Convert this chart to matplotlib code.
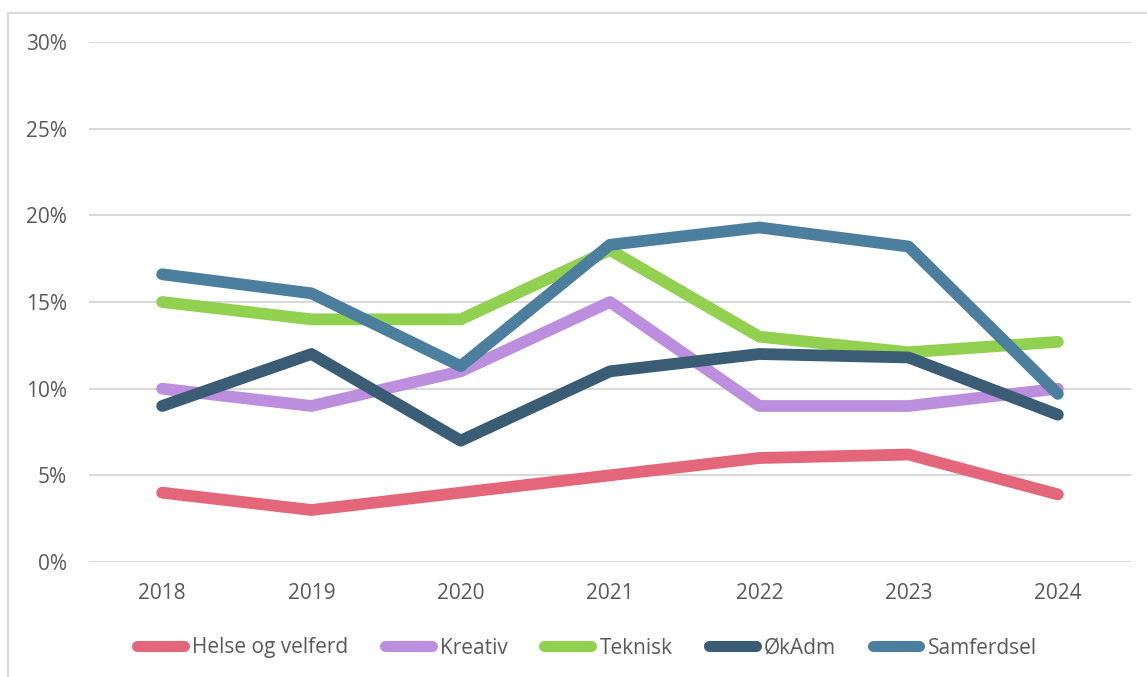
import matplotlib.pyplot as plt
from matplotlib.patches import Rectangle
from matplotlib.ticker import PercentFormatter

# data (percent)
years = ["2018", "2019", "2020", "2021", "2022", "2023", "2024"]
helse = [4.0, 3.0, 4.0, 5.0, 6.0, 6.2, 3.9]
kreativ = [10.0, 9.0, 11.0, 15.0, 9.0, 9.0, 10.0]
teknisk = [15.0, 14.0, 14.0, 18.0, 13.0, 12.1, 12.7]
okadm = [9.0, 12.0, 7.0, 11.0, 12.0, 11.8, 8.5]
samferdsel = [16.6, 15.5, 11.3, 18.3, 19.3, 18.2, 9.7]

series = [
    ("Helse og velferd", helse, "#E3667A"),
    ("Kreativ", kreativ, "#BB8FDD"),
    ("Teknisk", teknisk, "#92D050"),
    ("ØkAdm", okadm, "#3A5D75"),
    ("Samferdsel", samferdsel, "#4C7E9E"),
]

plt.rcParams['font.family'] = ['Open Sans', 'DejaVu Sans']
txt = "#595959"

fig = plt.figure(figsize=(11.47, 6.77), dpi=100)
W, H = 1147, 677
ax = fig.add_axes([89 / W, 1 - 562 / H, (1131 - 89) / W, (562 - 42) / H])

x = list(range(len(years)))
for name, vals, col in series:
    ax.plot(x, vals, color=col, lw=8.5, solid_capstyle='round',
            solid_joinstyle='round', label=name, zorder=3)

ax.set_xlim(-0.49, 6.49)
ax.set_ylim(0, 30)
ax.set_yticks(range(0, 31, 5))
ax.yaxis.set_major_formatter(PercentFormatter(decimals=0))
ax.set_xticks(x)
ax.set_xticklabels(years)
ax.grid(axis='y', color='#D9D9D9', lw=1.5)
ax.set_axisbelow(True)
for s in ax.spines.values():
    s.set_visible(False)
ax.tick_params(length=0, labelsize=15, colors=txt, pad=15)
ax.tick_params(axis='y', pad=16)

# outer chart border
fig.patches.append(Rectangle((8 / W, -0.1), 1.2, 1 - 13 / H + 0.1,
                             transform=fig.transFigure, fill=False,
                             edgecolor='#D9D9D9', lw=1.5))

leg = fig.legend(loc='center', bbox_to_anchor=(587 / W, 1 - 648 / H), ncol=5,
                 frameon=False, fontsize=15, handlelength=2.25, handletextpad=0.4,
                 columnspacing=1.75, labelcolor=txt)
for h in leg.legend_handles:
    h.set_linewidth(8)
    h.set_solid_capstyle('round')

fig.savefig("out.png", dpi=100)
